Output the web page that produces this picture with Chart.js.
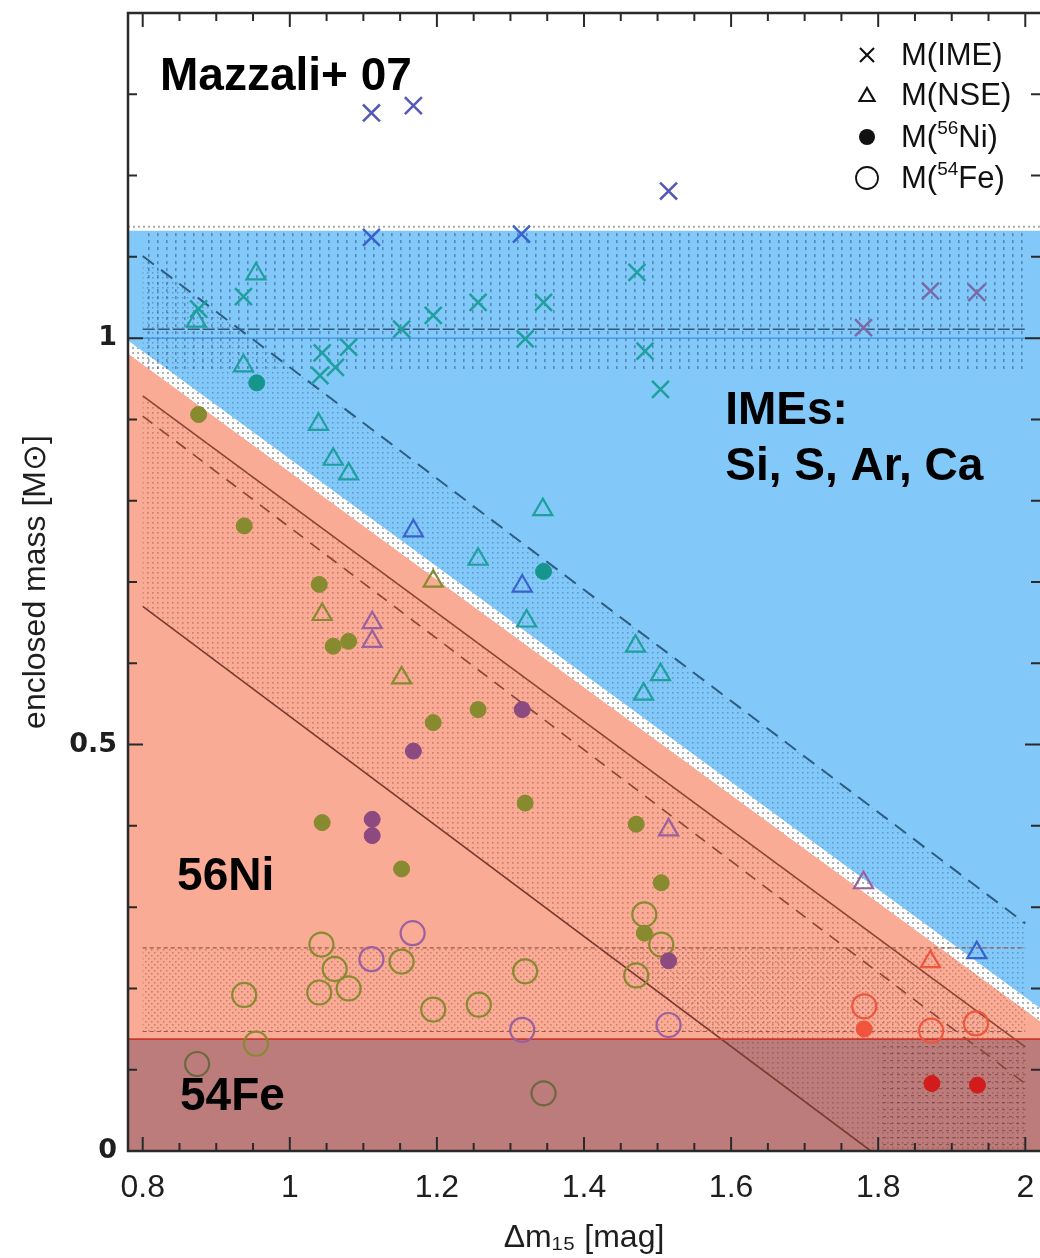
<!DOCTYPE html>
<html>
<head>
<meta charset="utf-8">
<title>Enclosed mass vs decline rate</title>
<script src="https://cdn.jsdelivr.net/npm/chart.js@4.4.0/dist/chart.umd.min.js"></script>
<style>
  html, body { margin: 0; padding: 0; background: #fff; overflow: hidden; }
  #wrap { width: 1040px; height: 1258px; }
</style>
</head>
<body>
<div id="wrap"><canvas id="c" width="1040" height="1258"></canvas></div>
<script>
// axis ticks
const xTickValues = [0.8, 1.0, 1.2, 1.4, 1.6, 1.8, 2.0];
const xTickLabels = ['0.8', '1', '1.2', '1.4', '1.6', '1.8', '2'];
const yTickValues = [0, 0.5, 1.0];
const yTickLabels = ['0', '0.5', '1'];

// M(IME) crosses  [dm15, mass]
const imePoints = [
  [1.111, 1.277], [1.168, 1.286], [1.515, 1.181], [1.111, 1.124], [1.315, 1.128],
  [0.876, 1.036], [0.937, 1.051], [1.044, 0.982], [1.080, 0.989], [1.062, 0.964],
  [1.041, 0.954], [1.152, 1.011], [1.195, 1.028], [1.256, 1.044], [1.345, 1.044],
  [1.320, 0.999], [1.472, 1.081], [1.483, 0.984], [1.504, 0.937],
  [1.780, 1.013], [1.871, 1.058], [1.934, 1.056]
];
const imeColors = ['violetBlue', 'violetBlue', 'violetBlue', 'blue', 'blue',
  'teal', 'teal', 'teal', 'teal', 'teal', 'teal', 'teal', 'teal', 'teal', 'teal',
  'teal', 'teal', 'teal', 'teal', 'lilac', 'lilac', 'lilac'];

// M(NSE) triangles
const nsePoints = [
  [0.954, 1.079], [0.873, 1.021], [0.937, 0.966], [1.039, 0.894], [1.059, 0.851],
  [1.080, 0.833], [1.256, 0.728], [1.322, 0.652], [1.344, 0.789], [1.470, 0.621],
  [1.504, 0.586], [1.481, 0.562],
  [1.168, 0.763], [1.316, 0.695], [1.934, 0.244],
  [1.195, 0.701], [1.044, 0.660], [1.152, 0.582],
  [1.112, 0.650], [1.112, 0.627], [1.515, 0.395], [1.780, 0.330],
  [1.871, 0.233]
];
const nseColors = ['teal', 'teal', 'teal', 'teal', 'teal', 'teal', 'teal', 'teal',
  'teal', 'teal', 'teal', 'teal', 'blue', 'blue', 'blue', 'olive', 'olive', 'olive',
  'violet', 'violet', 'violet', 'violet', 'orange'];

// M(56Ni) filled circles
const niPoints = [
  [0.955, 0.945], [1.345, 0.713],
  [0.876, 0.906], [0.938, 0.769], [1.040, 0.697], [1.059, 0.621], [1.080, 0.627],
  [1.195, 0.527], [1.256, 0.543], [1.044, 0.404], [1.152, 0.347], [1.320, 0.428],
  [1.471, 0.402], [1.505, 0.330], [1.482, 0.268],
  [1.316, 0.543], [1.168, 0.492], [1.112, 0.408], [1.112, 0.388], [1.515, 0.234],
  [1.781, 0.150], [1.873, 0.083], [1.935, 0.081]
];
const niColors = ['tealDark', 'tealDark', 'olive', 'olive', 'olive', 'olive', 'olive',
  'olive', 'olive', 'olive', 'olive', 'olive', 'olive', 'olive', 'olive',
  'plum', 'plum', 'plum', 'plum', 'plum', 'orange', 'red', 'red'];

// M(54Fe) open circles
const fePoints = [
  [1.043, 0.254], [1.061, 0.224], [1.152, 0.233], [0.938, 0.192], [1.040, 0.195],
  [1.080, 0.200], [1.195, 0.174], [1.257, 0.180], [1.320, 0.221], [1.482, 0.291],
  [1.505, 0.254], [1.471, 0.216], [0.954, 0.132],
  [1.167, 0.268], [1.111, 0.236], [1.316, 0.149], [1.515, 0.155],
  [0.874, 0.107], [1.345, 0.071],
  [1.781, 0.178], [1.872, 0.148], [1.933, 0.157]
];
const feColors = ['olive', 'olive', 'olive', 'olive', 'olive', 'olive', 'olive',
  'olive', 'olive', 'olive', 'olive', 'olive', 'olive', 'violet', 'violet', 'violet',
  'violet', 'khaki', 'khaki', 'orange', 'orange', 'orange'];

// shaded zones (polygons, data units)
const imeZone = [[0.78, 0.997], [0.78, 1.132], [2.02, 1.132], [2.02, 0.176]];
const gapZone = [[0.78, 0.981], [0.78, 0.997], [2.02, 0.176], [2.02, 0.160]];
const niZone = [[0.78, 0], [0.78, 0.981], [2.02, 0.160], [2.02, 0]];
const feZone = [[0.78, 0], [0.78, 0.1376], [2.02, 0.1376], [2.02, 0]];
const imeBand = [[0.80, 0.962], [0.80, 1.132], [2.00, 1.132], [2.00, 0.962]];
const nseBand = [[0.80, 0.984], [0.80, 1.101], [2.00, 0.280], [2.00, 0.190]];
const niBand = [[0.80, 0.670], [0.80, 0.929], [2.00, 0.128], [2.00, 0], [1.79, 0]];
const feBand = [[0.80, 0.147], [0.80, 0.250], [2.00, 0.250], [2.00, 0.147]];
const feGrid = [[1.80, 0], [1.80, 0.1376], [2.00, 0.1376], [2.00, 0]];

// model lines
const imeTopLine = [[0.78, 1.137], [2.02, 1.137]];
const imeMidLine = [[0.80, 1.011], [2.00, 1.011]];
const imeOneLine = [[0.78, 1.0], [2.02, 1.0]];
const nseDash = [[0.80, 1.101], [2.00, 0.280]];
const niUpper = [[0.80, 0.929], [2.00, 0.128]];
const niDash = [[0.80, 0.904], [2.00, 0.083]];
const niLower = [[0.80, 0.670], [1.79, 0]];
const feBandTop = [[0.80, 0.250], [2.00, 0.250]];
const feBandBottom = [[0.80, 0.147], [2.00, 0.147]];
const feTopLine = [[0.78, 0.1376], [2.02, 0.1376]];

const palette = {
  violetBlue: '#5558b6', blue: '#3a62cc', teal: '#1f9f9d', tealDark: '#15958c',
  lilac: '#7a6aa8', olive: '#878a2e', violet: '#9a60a0', plum: '#8c4a80',
  orange: '#f0553c', red: '#d21c1c', khaki: '#6b6840'
};

const canvas = document.getElementById('c');
const mainCtx = canvas.getContext('2d');

function texture(w, h, color, marks, bg) {
  const c = document.createElement('canvas');
  c.width = w; c.height = h;
  const g = c.getContext('2d');
  if (bg) { g.fillStyle = bg; g.fillRect(0, 0, w, h); }
  g.fillStyle = color;
  marks.forEach(m => g.fillRect(m[0], m[1], m[2], m[3]));
  return mainCtx.createPattern(c, 'repeat');
}

const pts = arr => arr.map(p => ({x: p[0], y: p[1]}));

function zone(poly, fill, order) {
  return {
    type: 'line', data: pts(poly), fill: 'shape', backgroundColor: fill,
    borderWidth: 0, pointRadius: 0, tension: 0, order: order
  };
}

function rule(line, color, width, dash, order) {
  return {
    type: 'line', data: pts(line), fill: false, borderColor: color,
    borderWidth: width, borderDash: dash, pointRadius: 0, tension: 0, order: order
  };
}

// keep the plot frame where the axes put it, no extra label padding
function noPad(s) {
  s.paddingTop = 0; s.paddingBottom = 0; s.paddingLeft = 0; s.paddingRight = 0;
}

const frame = {
  id: 'frame',
  afterDatasetsDraw(chart) {
    const {ctx, chartArea: a, scales: {x, y}} = chart;
    ctx.save();
    ctx.strokeStyle = '#2a2a2a';
    ctx.lineWidth = 2;
    ctx.beginPath();
    for (let i = 16; i <= 40; i++) {
      const px = x.getPixelForValue(i * 0.05);
      const len = i % 4 === 0 ? 14 : 8;
      ctx.moveTo(px, a.bottom); ctx.lineTo(px, a.bottom - len);
      ctx.moveTo(px, a.top); ctx.lineTo(px, a.top + len);
    }
    for (let i = 0; i <= 14; i++) {
      const py = y.getPixelForValue(i * 0.1);
      const len = i % 5 === 0 ? 15 : 9;
      ctx.moveTo(a.left, py); ctx.lineTo(a.left + len, py);
      ctx.moveTo(a.right, py); ctx.lineTo(a.right - len, py);
    }
    ctx.stroke();
    // left, top and bottom sides; the right side falls just past the page edge
    ctx.lineWidth = 2.5;
    ctx.beginPath();
    ctx.moveTo(a.right, a.top); ctx.lineTo(a.left, a.top);
    ctx.lineTo(a.left, a.bottom); ctx.lineTo(a.right, a.bottom);
    ctx.stroke();
    ctx.restore();
  }
};

// text labels placed in data units (left, baseline)
const notes = [
  {text: 'Mazzali+ 07', x: 0.8235, y: 1.3054},
  {text: 'IMEs:', x: 1.592, y: 0.894},
  {text: 'Si, S, Ar, Ca', x: 1.592, y: 0.826},
  {text: '56Ni', x: 0.8467, y: 0.321},
  {text: '54Fe', x: 0.8507, y: 0.0505}
];
const legendRows = [
  {mark: 'cross', parts: ['M(IME)']},
  {mark: 'triangle', parts: ['M(NSE)']},
  {mark: 'dot', parts: ['M(', '56', 'Ni)']},
  {mark: 'ring', parts: ['M(', '54', 'Fe)']}
];

const annotate = {
  id: 'annotate',
  afterDraw(chart) {
    const {ctx, chartArea: a, scales: {x, y}} = chart;
    ctx.save();
    ctx.fillStyle = '#000';
    ctx.font = 'bold 46px "Liberation Sans", Arial, sans-serif';
    ctx.textBaseline = 'alphabetic';
    ctx.textAlign = 'left';
    notes.forEach(n => ctx.fillText(n.text, x.getPixelForValue(n.x), y.getPixelForValue(n.y)));

    const mx = a.right - 173, tx = a.right - 139;
    const rowY = [a.top + 42, a.top + 82, a.top + 124, a.top + 165];
    ctx.strokeStyle = '#111';
    ctx.fillStyle = '#111';
    legendRows.forEach((row, i) => {
      const cy = rowY[i];
      ctx.lineWidth = 2.2;
      ctx.beginPath();
      if (row.mark === 'cross') {
        ctx.moveTo(mx - 7, cy - 7); ctx.lineTo(mx + 7, cy + 7);
        ctx.moveTo(mx + 7, cy - 7); ctx.lineTo(mx - 7, cy + 7);
        ctx.stroke();
      } else if (row.mark === 'triangle') {
        ctx.moveTo(mx, cy - 7); ctx.lineTo(mx + 7.5, cy + 6); ctx.lineTo(mx - 7.5, cy + 6);
        ctx.closePath(); ctx.stroke();
      } else if (row.mark === 'dot') {
        ctx.arc(mx, cy, 8, 0, Math.PI * 2); ctx.fill();
      } else {
        ctx.lineWidth = 1.8;
        ctx.arc(mx, cy, 11, 0, Math.PI * 2); ctx.stroke();
      }
      let px = tx;
      row.parts.forEach((p, k) => {
        const sup = row.parts.length === 3 && k === 1;
        ctx.font = (sup ? '19px' : '31px') + ' "Liberation Sans", Arial, sans-serif';
        ctx.textBaseline = 'middle';
        ctx.fillText(p, px, sup ? cy - 8 : cy + 1);
        px += ctx.measureText(p).width;
      });
    });
    ctx.restore();
  }
};

const pBlue = texture(9, 7, 'rgba(30,60,110,0.45)', [[4, 2, 1.6, 3.2]]);
const pNse = texture(5, 5, 'rgba(30,60,110,0.35)', [[2, 2, 1.5, 1.5]]);
const pNi = texture(5, 5, 'rgba(130,50,40,0.38)', [[2, 2, 1.6, 1.6]]);
const pFe = texture(6, 6, 'rgba(130,50,40,0.38)', [[1, 1, 1.5, 1.5], [4, 4, 1.5, 1.5]]);
const pGap = texture(5, 5, 'rgba(135,135,135,0.65)', [[2, 2, 2, 2]], '#ffffff');
const pGrid = texture(7, 7, 'rgba(70,20,20,0.4)', [[1, 3, 3, 1.2]]);

function markers(label, points, colors, style, radius, filled, width, order) {
  const cols = colors.map(k => palette[k]);
  return {
    type: 'scatter', label: label, data: pts(points), showLine: false,
    pointStyle: style, pointRadius: radius, pointBorderWidth: width,
    pointBorderColor: cols,
    pointBackgroundColor: filled ? cols : 'rgba(0,0,0,0)',
    order: order
  };
}

new Chart(canvas, {
  type: 'scatter',
  data: {
    datasets: [
      zone(niZone, '#f9ab95', 40),
      zone(feZone, '#bd7c7c', 39),
      zone(niBand, pNi, 38),
      zone(feBand, pFe, 37),
      zone(gapZone, pGap, 36),
      zone(imeZone, '#82c9f9', 35),
      zone(imeBand, pBlue, 34),
      zone(nseBand, pNse, 33),
      zone(feGrid, pGrid, 32),
      rule(imeTopLine, 'rgba(150,150,150,0.8)', 2, [2, 3], 20),
      rule(imeOneLine, '#2a86d6', 1, [], 19),
      rule(imeMidLine, '#34597a', 1.5, [12, 3], 18),
      rule(nseDash, '#2c5d84', 2, [14, 9], 17),
      rule(niUpper, '#8a4535', 1.6, [], 16),
      rule(niDash, '#8a4535', 1.6, [12, 9], 15),
      rule(niLower, '#7a3a2e', 1.6, [], 14),
      rule(feBandTop, '#9a5a48', 1.2, [4, 3], 13),
      rule(feBandBottom, '#9a5a48', 1.2, [4, 3], 12),
      rule(feTopLine, '#c8382c', 1.6, [], 11),
      markers('M(54Fe)', fePoints, feColors, 'circle', 12, false, 2.2, 4),
      markers('M(56Ni)', niPoints, niColors, 'circle', 8, true, 1, 3),
      markers('M(NSE)', nsePoints, nseColors, 'triangle', 11, false, 2.2, 2),
      markers('M(IME)', imePoints, imeColors, 'crossRot', 12, false, 2.5, 1)
    ]
  },
  options: {
    responsive: false,
    animation: false,
    events: [],
    layout: { autoPadding: false, padding: { top: 13, right: 0, bottom: 0, left: 0 } },
    plugins: { legend: { display: false }, tooltip: { enabled: false } },
    scales: {
      x: {
        type: 'linear', min: 0.78, max: 2.02,
        grid: { display: false, drawTicks: false },
        border: { display: false },
        afterBuildTicks: s => { s.ticks = xTickValues.map(v => ({value: v})); },
        afterFit: s => { s.height = 107; noPad(s); },
        ticks: {
          autoSkip: false, maxRotation: 0, padding: 18, color: '#1e1e1e',
          font: { family: '"Liberation Sans", Arial, sans-serif', size: 32 },
          callback: (v, i) => xTickLabels[i]
        },
        title: {
          display: true, text: 'Δm₁₅ [mag]', color: '#1e1e1e',
          font: { family: '"Liberation Sans", Arial, sans-serif', size: 32 },
          padding: { top: 0, bottom: 1 }
        }
      },
      y: {
        type: 'linear', min: 0, max: 1.4,
        grid: { display: false, drawTicks: false },
        border: { display: false },
        afterBuildTicks: s => { s.ticks = yTickValues.map(v => ({value: v})); },
        afterFit: s => { s.width = 128; noPad(s); },
        ticks: {
          padding: 11, color: '#1e1e1e',
          font: { family: '"DejaVu Sans", sans-serif', size: 27, weight: 'bold' },
          callback: (v, i) => yTickLabels[i]
        },
        title: {
          display: true, text: 'enclosed mass [M⊙]', color: '#1e1e1e',
          font: { family: '"Liberation Sans", Arial, sans-serif', size: 32 },
          padding: { top: 17, bottom: 0 }
        }
      }
    }
  },
  plugins: [frame, annotate]
});
</script>
</body>
</html>
